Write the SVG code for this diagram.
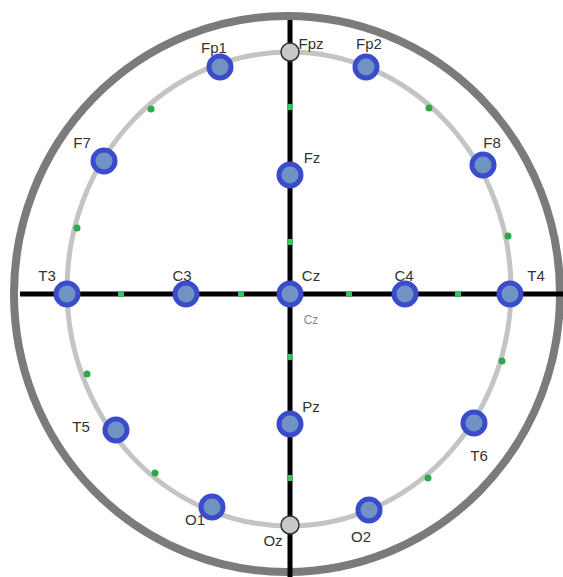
<svg xmlns="http://www.w3.org/2000/svg" width="563" height="577" viewBox="0 0 563 577">
<style>
.lbl{font-family:"Liberation Sans","DejaVu Sans",sans-serif;font-size:15px;fill:#333;text-anchor:middle}
.el{fill:#7193c4;stroke:#3a4ccc;stroke-width:5}
.ref{fill:#c8c8c8;stroke:#333;stroke-width:1.5}
.gd{fill:#2ea84a}
.gs{fill:#2ec85a}
</style>
<rect width="563" height="577" fill="#fff"/>
<ellipse cx="287" cy="294" rx="273" ry="278" fill="none" stroke="#7b7b7b" stroke-width="8"/>
<ellipse cx="289" cy="289" rx="222" ry="237" fill="none" stroke="#c4c4c4" stroke-width="5"/>
<g id="connectors" stroke="#000" stroke-width="5">
<line x1="290" y1="20" x2="290" y2="577"/>
<line x1="20" y1="294" x2="563" y2="294"/>
</g>
<g id="marks">
<rect class="gs" x="287.5" y="104" width="5" height="6"/>
<rect class="gs" x="287.5" y="239" width="5" height="6"/>
<rect class="gs" x="287.5" y="354" width="5" height="6"/>
<rect class="gs" x="287.5" y="475" width="5" height="6"/>
<rect class="gs" x="118" y="291.5" width="6" height="5"/>
<rect class="gs" x="238" y="291.5" width="6" height="5"/>
<rect class="gs" x="346" y="291.5" width="6" height="5"/>
<rect class="gs" x="455" y="291.5" width="6" height="5"/>
<circle class="gd" cx="151" cy="109" r="3.5"/>
<circle class="gd" cx="429" cy="108" r="3.5"/>
<circle class="gd" cx="77" cy="228" r="3.5"/>
<circle class="gd" cx="508" cy="236" r="3.5"/>
<circle class="gd" cx="87" cy="374" r="3.5"/>
<circle class="gd" cx="502" cy="361" r="3.5"/>
<circle class="gd" cx="155" cy="473" r="3.5"/>
<circle class="gd" cx="428" cy="478" r="3.5"/>
</g>
<g id="Fpz"><circle class="ref" cx="290" cy="52" r="9"/><text class="lbl" x="311" y="49">Fpz</text></g>
<g id="Oz"><circle class="ref" cx="290" cy="525" r="9"/><text class="lbl" x="273" y="546">Oz</text></g>
<g id="Fp1"><circle class="el" cx="220" cy="67" r="11"/><text class="lbl" x="214" y="53">Fp1</text></g>
<g id="Fp2"><circle class="el" cx="366" cy="67" r="11"/><text class="lbl" x="369" y="49">Fp2</text></g>
<g id="F7"><circle class="el" cx="104" cy="161" r="11"/><text class="lbl" x="82" y="148">F7</text></g>
<g id="F8"><circle class="el" cx="483" cy="165" r="11"/><text class="lbl" x="492" y="148">F8</text></g>
<g id="Fz"><circle class="el" cx="290" cy="175" r="11"/><text class="lbl" x="312" y="163">Fz</text></g>
<g id="T3"><circle class="el" cx="67" cy="294" r="11"/><text class="lbl" x="47" y="281">T3</text></g>
<g id="C3"><circle class="el" cx="186" cy="294" r="11"/><text class="lbl" x="182" y="281">C3</text></g>
<g id="Cz"><circle class="el" cx="290" cy="294" r="11"/><text class="lbl" x="311" y="281">Cz</text><text class="lbl" x="311" y="324" style="fill:#888;font-size:12px">Cz</text></g>
<g id="C4"><circle class="el" cx="405" cy="294" r="11"/><text class="lbl" x="404" y="281">C4</text></g>
<g id="T4"><circle class="el" cx="510" cy="294" r="11"/><text class="lbl" x="536" y="281">T4</text></g>
<g id="Pz"><circle class="el" cx="290" cy="424" r="11"/><text class="lbl" x="311" y="412">Pz</text></g>
<g id="T5"><circle class="el" cx="116" cy="430" r="11"/><text class="lbl" x="81" y="432">T5</text></g>
<g id="T6"><circle class="el" cx="474" cy="423" r="11"/><text class="lbl" x="479" y="461">T6</text></g>
<g id="O1"><circle class="el" cx="212" cy="507" r="11"/><text class="lbl" x="195" y="525">O1</text></g>
<g id="O2"><circle class="el" cx="369" cy="510" r="11"/><text class="lbl" x="361" y="542">O2</text></g>
</svg>
